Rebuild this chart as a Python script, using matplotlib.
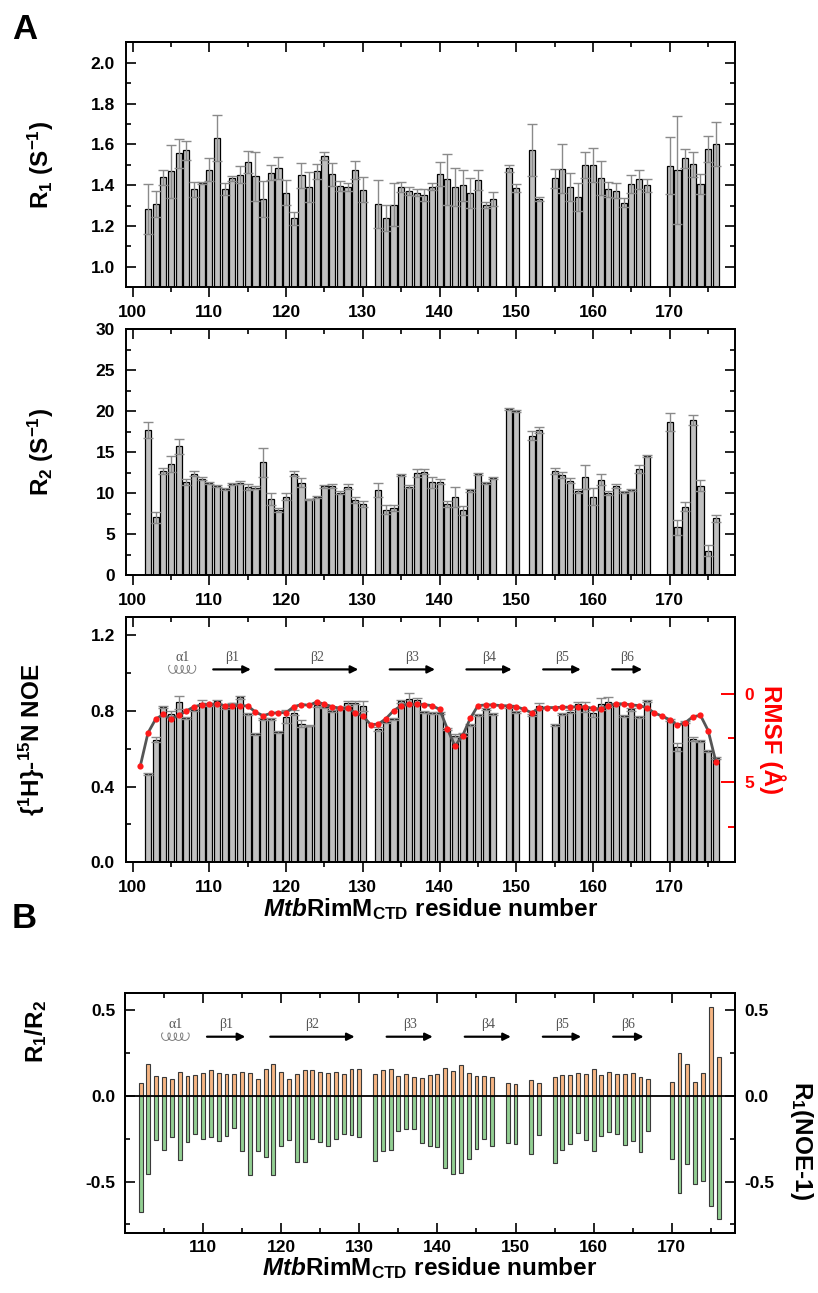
import numpy as np
import matplotlib
matplotlib.use("Agg")
import matplotlib.pyplot as plt
from matplotlib.ticker import MultipleLocator, FixedLocator

# ---------------- data ----------------
residues = ([102, 103, 104, 105, 106, 107, 108, 109, 110, 111, 112, 113, 114, 115, 116,
             117, 118, 119, 120, 121, 122, 123, 124, 125, 126, 127, 128, 129, 130,
             132, 133, 134, 135, 136, 137, 138, 139, 140, 141, 142, 143, 144, 145, 146, 147,
             149, 150, 152, 153,
             155, 156, 157, 158, 159, 160, 161, 162, 163, 164, 165, 166, 167,
             170, 171, 172, 173, 174, 175, 176])

r1 = [1.285, 1.309, 1.439, 1.468, 1.556, 1.571, 1.380, 1.410, 1.476, 1.631, 1.380, 1.433, 1.452, 1.515, 1.445,
      1.333, 1.462, 1.486, 1.364, 1.237, 1.449, 1.393, 1.468, 1.545, 1.454, 1.397, 1.390, 1.476, 1.379,
      1.309, 1.240, 1.304, 1.392, 1.372, 1.364, 1.351, 1.393, 1.455, 1.429, 1.390, 1.400, 1.363, 1.426, 1.302, 1.333,
      1.483, 1.385, 1.574, 1.332,
      1.434, 1.481, 1.390, 1.341, 1.499, 1.499, 1.434, 1.380, 1.372, 1.315, 1.405, 1.429, 1.400,
      1.496, 1.475, 1.532, 1.502, 1.405, 1.579, 1.602]
r1_err = [0.122, 0.065, 0.037, 0.130, 0.070, 0.047, 0.037, 0.005, 0.057, 0.114, 0.030, 0.010, 0.040, 0.055, 0.120,
          0.090, 0.036, 0.054, 0.062, 0.030, 0.062, 0.073, 0.036, 0.020, 0.057, 0.024, 0.020, 0.044, 0.063,
          0.117, 0.063, 0.106, 0.023, 0.020, 0.016, 0.030, 0.016, 0.060, 0.124, 0.094, 0.076, 0.073, 0.050, 0.016, 0.034,
          0.018, 0.020, 0.127, 0.008,
          0.047, 0.119, 0.068, 0.068, 0.065, 0.085, 0.083, 0.036, 0.037, 0.020, 0.045, 0.047, 0.032,
          0.138, 0.265, 0.047, 0.062, 0.049, 0.063, 0.109]

r2 = [17.72, 7.03, 12.76, 13.58, 15.73, 11.42, 12.40, 11.79, 11.22, 10.85, 10.49, 11.10, 11.30, 10.77, 10.69,
      13.78, 9.27, 7.89, 9.59, 12.36, 11.30, 9.23, 9.55, 10.85, 10.89, 10.08, 10.81, 9.19, 8.70,
      10.37, 8.00, 8.17, 12.20, 10.81, 12.44, 12.64, 11.34, 11.42, 8.66, 9.55, 7.89, 10.33, 12.36, 11.26, 11.91,
      20.24, 20.04, 17.03, 17.72,
      12.72, 12.24, 11.54, 10.28, 11.99, 9.59, 11.67, 10.04, 10.93, 10.16, 10.40, 12.97, 14.59,
      18.70, 5.81, 8.37, 18.94, 10.93, 2.97, 6.91]
r2_err = [1.00, 0.70, 0.37, 1.00, 0.90, 0.37, 0.30, 0.20, 0.15, 0.10, 0.10, 0.15, 0.20, 0.40, 0.15,
          1.80, 0.70, 0.25, 0.40, 0.30, 0.57, 0.10, 0.16, 0.20, 0.28, 0.16, 0.30, 0.37, 0.37,
          0.85, 0.57, 0.33, 0.10, 0.15, 0.50, 0.30, 0.65, 0.30, 0.37, 1.20, 0.60, 0.16, 0.16, 0.16, 0.12,
          0.12, 0.16, 0.57, 0.37,
          0.40, 0.40, 0.33, 0.20, 1.46, 1.00, 0.70, 0.24, 0.24, 0.12, 0.12, 0.50, 0.12,
          1.10, 0.93, 0.57, 0.65, 0.70, 0.70, 0.45]

noe = [0.466, 0.647, 0.820, 0.783, 0.844, 0.760, 0.804, 0.843, 0.834, 0.850, 0.813, 0.839, 0.871, 0.783, 0.677,
       0.758, 0.755, 0.688, 0.769, 0.790, 0.732, 0.721, 0.828, 0.818, 0.800, 0.816, 0.839, 0.843, 0.825,
       0.705, 0.741, 0.756, 0.850, 0.860, 0.855, 0.793, 0.790, 0.790, 0.704, 0.668, 0.675, 0.726, 0.777, 0.807, 0.781,
       0.821, 0.793, 0.779, 0.825,
       0.726, 0.781, 0.795, 0.837, 0.821, 0.786, 0.836, 0.848, 0.834, 0.774, 0.807, 0.767, 0.850,
       0.753, 0.607, 0.742, 0.649, 0.642, 0.589, 0.552]
noe_err = [0.004, 0.012, 0.006, 0.018, 0.033, 0.005, 0.004, 0.014, 0.008, 0.007, 0.005, 0.004, 0.007, 0.005, 0.004,
           0.005, 0.005, 0.004, 0.035, 0.014, 0.020, 0.004, 0.006, 0.006, 0.006, 0.006, 0.012, 0.010, 0.028,
           0.010, 0.005, 0.005, 0.009, 0.032, 0.012, 0.005, 0.005, 0.005, 0.005, 0.009, 0.009, 0.005, 0.005, 0.005, 0.005,
           0.007, 0.005, 0.005, 0.014,
           0.005, 0.005, 0.008, 0.010, 0.026, 0.018, 0.030, 0.026, 0.006, 0.005, 0.006, 0.005, 0.004,
           0.005, 0.021, 0.005, 0.010, 0.005, 0.005, 0.005]

rmsf_res = list(range(101, 177))
rmsf = [4.05, 2.19, 1.41, 1.15, 1.41, 1.20, 0.95, 0.71, 0.61, 0.57,
        0.57, 0.65, 0.65, 0.65, 0.67, 1.01, 1.22, 1.09, 1.05, 1.05,
        0.71, 0.59, 0.63, 0.44, 0.57, 0.71, 0.80, 0.80, 1.05, 1.24,
        1.72, 1.70, 1.39, 0.94, 0.65, 0.57, 0.57, 0.59, 0.65, 0.86,
        1.95, 2.94, 2.35, 1.37, 0.65, 0.61, 0.61, 0.65, 0.67, 0.71,
        0.86, 1.05, 0.80, 0.76, 0.76, 0.74, 0.74, 0.71, 0.73, 0.80,
        0.84, 0.67, 0.55, 0.55, 0.61, 0.65, 0.76, 1.07, 1.24, 1.45,
        1.76, 1.62, 1.28, 1.20, 2.06, 3.82]

r1_over_r2 = [0.077, 0.188, 0.114, 0.110, 0.100, 0.139, 0.114, 0.120, 0.133, 0.151, 0.133, 0.130, 0.130, 0.141, 0.135,
              0.097, 0.157, 0.188, 0.141, 0.099, 0.130, 0.151, 0.151, 0.141, 0.132, 0.139, 0.130, 0.159, 0.159,
              0.126, 0.153, 0.159, 0.116, 0.130, 0.108, 0.106, 0.124, 0.130, 0.162, 0.145, 0.178, 0.132, 0.116, 0.116, 0.112,
              0.075, 0.072, 0.093, 0.075,
              0.112, 0.124, 0.120, 0.132, 0.126, 0.157, 0.122, 0.137, 0.126, 0.130, 0.135, 0.110, 0.097,
              0.081, 0.251, 0.184, 0.081, 0.132, 0.520, 0.226]
r1_noe = [-0.677, -0.458, -0.255, -0.313, -0.240, -0.375, -0.271, -0.220, -0.251, -0.240, -0.261, -0.232, -0.188, -0.319, -0.464,
          -0.321, -0.358, -0.460, -0.294, -0.257, -0.387, -0.385, -0.250, -0.269, -0.292, -0.250, -0.222, -0.228, -0.238,
          -0.381, -0.323, -0.313, -0.207, -0.191, -0.195, -0.275, -0.290, -0.296, -0.420, -0.455, -0.449, -0.368, -0.309, -0.251, -0.290,
          -0.277, -0.280, -0.342, -0.228,
          -0.391, -0.313, -0.282, -0.217, -0.257, -0.319, -0.232, -0.209, -0.220, -0.288, -0.263, -0.325, -0.207,
          -0.371, -0.569, -0.395, -0.516, -0.497, -0.642, -0.716]

# secondary structure (name, start, end)
ss_names = ["β1", "β2", "β3", "β4", "β5", "β6"]
ss_start = [110.5, 118.6, 133.5, 143.5, 153.5, 162.5]
ss_end = [115.4, 129.4, 139.4, 149.4, 158.4, 166.4]
helix_name = "α1"
helix_start, helix_end = 104.5, 108.4

xticks_major = [100, 110, 120, 130, 140, 150, 160, 170]

# ---------------- style ----------------
plt.rcParams['font.family'] = ['Liberation Sans', 'DejaVu Sans']
plt.rcParams['font.weight'] = 'bold'
plt.rcParams['axes.labelweight'] = 'bold'
plt.rcParams['mathtext.fontset'] = 'custom'
plt.rcParams['mathtext.rm'] = 'Liberation Sans:bold'
plt.rcParams['mathtext.bf'] = 'Liberation Sans:bold'
plt.rcParams['mathtext.it'] = 'Liberation Sans:italic:bold'
plt.rcParams['mathtext.sf'] = 'Liberation Sans:bold'
plt.rcParams['axes.linewidth'] = 1.4

TICK_FS = 12.5
LABEL_FS = 17.5
BAR_COLOR = '#c0c0c0'
ERR_COLOR = '#8a8a8a'

fig = plt.figure(figsize=(8.18, 12.93), dpi=100)
W, H = 818.0, 1293.0


def add_axes_px(left, top, right, bottom):
    return fig.add_axes([left / W, 1 - bottom / H, (right - left) / W, (bottom - top) / H])


def style_panelA(ax):
    ax.set_xlim(99.13, 178.5)
    ax.xaxis.set_major_locator(FixedLocator(xticks_major))
    ax.xaxis.set_minor_locator(MultipleLocator(5))
    ax.tick_params(axis='x', which='both', direction='out', width=1.2, labelsize=TICK_FS,
                   pad=6, bottom=True, top=False)
    ax.tick_params(axis='x', which='major', length=7)
    ax.tick_params(axis='x', which='minor', length=3.5)
    ax.tick_params(axis='y', which='both', direction='in', left=True, right=True,
                   width=1.2, labelsize=TICK_FS, pad=8)
    ax.tick_params(axis='y', which='major', length=7)
    ax.tick_params(axis='y', which='minor', length=3.5)
    sec = ax.secondary_xaxis('top')
    sec.xaxis.set_major_locator(FixedLocator(xticks_major))
    sec.xaxis.set_minor_locator(MultipleLocator(5))
    sec.tick_params(which='both', direction='in', labeltop=False, width=1.2)
    sec.tick_params(which='major', length=7)
    sec.tick_params(which='minor', length=3.5)
    for sp in ax.spines.values():
        sp.set_linewidth(1.4)
    sec.spines['top'].set_linewidth(1.4)
    for lab in ax.get_xticklabels() + ax.get_yticklabels():
        lab.set_fontweight('bold')


def draw_ss(ax, y_arrow, y_text, coil_h):
    # helix symbol (decorative loops)
    n_loops = 4
    k = 2.6
    total = helix_end - helix_start
    r = total / (n_loops * 2 * np.pi + 2 * k)
    d = k * r
    t = np.linspace(0, n_loops * 2 * np.pi, 600)
    xs = helix_start + d + r * t - d * np.sin(t)
    ys = y_arrow + coil_h * np.cos(t)
    ax.plot(xs, ys, color='#808080', lw=0.7, zorder=5)
    ax.text((helix_start + helix_end) / 2, y_text, helix_name, ha='center', va='bottom',
            fontsize=10, family=['Liberation Serif', 'DejaVu Serif'], fontweight='normal', color='#555555')
    for name, s, e in zip(ss_names, ss_start, ss_end):
        ax.annotate('', xy=(e, y_arrow), xytext=(s, y_arrow),
                    arrowprops=dict(arrowstyle='-|>', color='black', lw=1.6,
                                    mutation_scale=11, shrinkA=0, shrinkB=0), zorder=5)
        ax.text((s + e) / 2, y_text, name, ha='center', va='bottom', fontsize=10,
                family=['Liberation Serif', 'DejaVu Serif'], fontweight='normal', color='#555555')


# ---------------- R1 ----------------
ax1 = add_axes_px(126, 42.3, 735, 287.3)
ax1.bar(residues, r1, width=0.8, color=BAR_COLOR, edgecolor='black', linewidth=0.9, zorder=2)
ax1.errorbar(residues, r1, yerr=r1_err, fmt='none', ecolor=ERR_COLOR, elinewidth=1.0,
             capsize=3.5, capthick=1.0, zorder=3)
ax1.set_ylim(0.9, 2.1)
ax1.yaxis.set_major_locator(FixedLocator([1.0, 1.2, 1.4, 1.6, 1.8, 2.0]))
ax1.yaxis.set_minor_locator(MultipleLocator(0.1))
ax1.yaxis.set_major_formatter(matplotlib.ticker.FormatStrFormatter('%.1f'))
style_panelA(ax1)
ax1.set_ylabel(r'R$_1$ (S$^{-1}$)', fontsize=LABEL_FS)
ax1.yaxis.set_label_coords(-0.115, 0.5)

# ---------------- R2 ----------------
ax2 = add_axes_px(126, 329.5, 735, 575)
ax2.bar(residues, r2, width=0.8, color=BAR_COLOR, edgecolor='black', linewidth=0.9, zorder=2)
ax2.errorbar(residues, r2, yerr=r2_err, fmt='none', ecolor=ERR_COLOR, elinewidth=1.0,
             capsize=3.5, capthick=1.0, zorder=3)
ax2.set_ylim(0, 30)
ax2.yaxis.set_major_locator(MultipleLocator(5))
ax2.yaxis.set_minor_locator(MultipleLocator(2.5))
style_panelA(ax2)
ax2.set_ylabel(r'R$_2$ (S$^{-1}$)', fontsize=LABEL_FS)
ax2.yaxis.set_label_coords(-0.115, 0.5)

# ---------------- NOE + RMSF ----------------
ax3 = add_axes_px(126, 617.3, 735, 862.3)
ax3.bar(residues, noe, width=0.8, color=BAR_COLOR, edgecolor='black', linewidth=0.9, zorder=2)
ax3.errorbar(residues, noe, yerr=noe_err, fmt='none', ecolor=ERR_COLOR, elinewidth=1.0,
             capsize=3.5, capthick=1.0, zorder=3)
ax3.set_ylim(0, 1.293)
ax3.yaxis.set_major_locator(FixedLocator([0.0, 0.4, 0.8, 1.2]))
ax3.yaxis.set_minor_locator(FixedLocator([0.2, 0.6, 1.0]))
ax3.yaxis.set_major_formatter(matplotlib.ticker.FormatStrFormatter('%.1f'))
style_panelA(ax3)
ax3.set_ylabel(r'{$^{1}$H}-$^{15}$N NOE', fontsize=LABEL_FS)
ax3.yaxis.set_label_coords(-0.13, 0.5)
ax3.set_xlabel(r'$\it{Mtb}$RimM$_{\rm CTD}$ residue number', fontsize=LABEL_FS, labelpad=0.5)
draw_ss(ax3, 1.018, 1.048, 0.021)

ax3r = ax3.twinx()
ax3r.plot(rmsf_res, rmsf, color='#555555', lw=2.0, zorder=4)
ax3r.plot(rmsf_res, rmsf, linestyle='none', marker='o', markersize=4.5, color='#ff1a1a',
          markeredgewidth=0, zorder=5)
ax3r.set_ylim(9.52, -4.35)
ax3r.yaxis.set_major_locator(FixedLocator([0, 5]))
ax3r.yaxis.set_minor_locator(FixedLocator([2.5, 7.5]))
ax3r.tick_params(axis='y', which='both', direction='in', colors='red', width=1.4,
                 labelsize=TICK_FS, pad=7)
ax3r.tick_params(axis='y', which='major', length=10)
ax3r.tick_params(axis='y', which='minor', length=5)
for lab in ax3r.get_yticklabels():
    lab.set_fontweight('bold')
ax3r.spines['right'].set_color('black')
fig.text(772 / W, 1 - 740 / H, 'RMSF (Å)', rotation=270, ha='center', va='center',
         fontsize=LABEL_FS, color='red', fontweight='bold')

# ---------------- panel B ----------------
axb = add_axes_px(125, 993, 735, 1233)
axb.bar(residues, r1_over_r2, width=0.5, color='#f6b583', edgecolor='#3a3a3a', linewidth=0.8, zorder=2)
axb.bar(residues, r1_noe, width=0.5, color='#92cf92', edgecolor='#3a3a3a', linewidth=0.8, zorder=2)
axb.axhline(0, color='black', lw=1.3, zorder=3)
axb.set_xlim(100.0, 178.1)
axb.set_ylim(-0.8, 0.6)
axb.xaxis.set_major_locator(FixedLocator(xticks_major[1:]))
axb.xaxis.set_minor_locator(FixedLocator([105, 115, 125, 135, 145, 155, 165, 175]))
axb.yaxis.set_major_locator(FixedLocator([-0.5, 0.0, 0.5]))
axb.yaxis.set_minor_locator(FixedLocator([-0.75, -0.25, 0.25]))
axb.yaxis.set_major_formatter(matplotlib.ticker.FormatStrFormatter('%.1f'))
axb.tick_params(which='both', direction='in', top=True, right=False, width=1.2,
                labelsize=TICK_FS)
axb.tick_params(axis='y', pad=7)
axb.tick_params(axis='x', pad=5)
axb.tick_params(which='major', length=7)
axb.tick_params(which='minor', length=3.5)
for lab in axb.get_xticklabels() + axb.get_yticklabels():
    lab.set_fontweight('bold')
axb.set_xlabel(r'$\it{Mtb}$RimM$_{\rm CTD}$ residue number', fontsize=LABEL_FS, labelpad=0)
axb.set_ylabel(r'R$_1$/R$_2$', fontsize=LABEL_FS)
axb.yaxis.set_label_coords(-0.125, 0.84)
draw_ss(axb, 0.345, 0.38, 0.022)

axbr = axb.twinx()
axbr.set_ylim(-0.8, 0.6)
axbr.yaxis.set_major_locator(FixedLocator([-0.5, 0.0, 0.5]))
axbr.yaxis.set_minor_locator(FixedLocator([-0.75, -0.25, 0.25]))
axbr.yaxis.set_major_formatter(matplotlib.ticker.FormatStrFormatter('%.1f'))
axbr.tick_params(which='both', direction='in', width=1.2, labelsize=TICK_FS, pad=7)
axbr.tick_params(which='major', length=7)
axbr.tick_params(which='minor', length=3.5)
for lab in axbr.get_yticklabels():
    lab.set_fontweight('bold')
fig.text(801 / W, 1 - 1140 / H, r'R$_1$(NOE-1)', rotation=270, ha='center', va='center',
         fontsize=LABEL_FS, fontweight='bold')

# panel letters
fig.text(12 / W, 1 - 13 / H, 'A', fontsize=25, fontweight='bold', va='top', ha='left')
fig.text(12 / W, 1 - 902 / H, 'B', fontsize=25, fontweight='bold', va='top', ha='left')

fig.savefig('out.png', dpi=100)
